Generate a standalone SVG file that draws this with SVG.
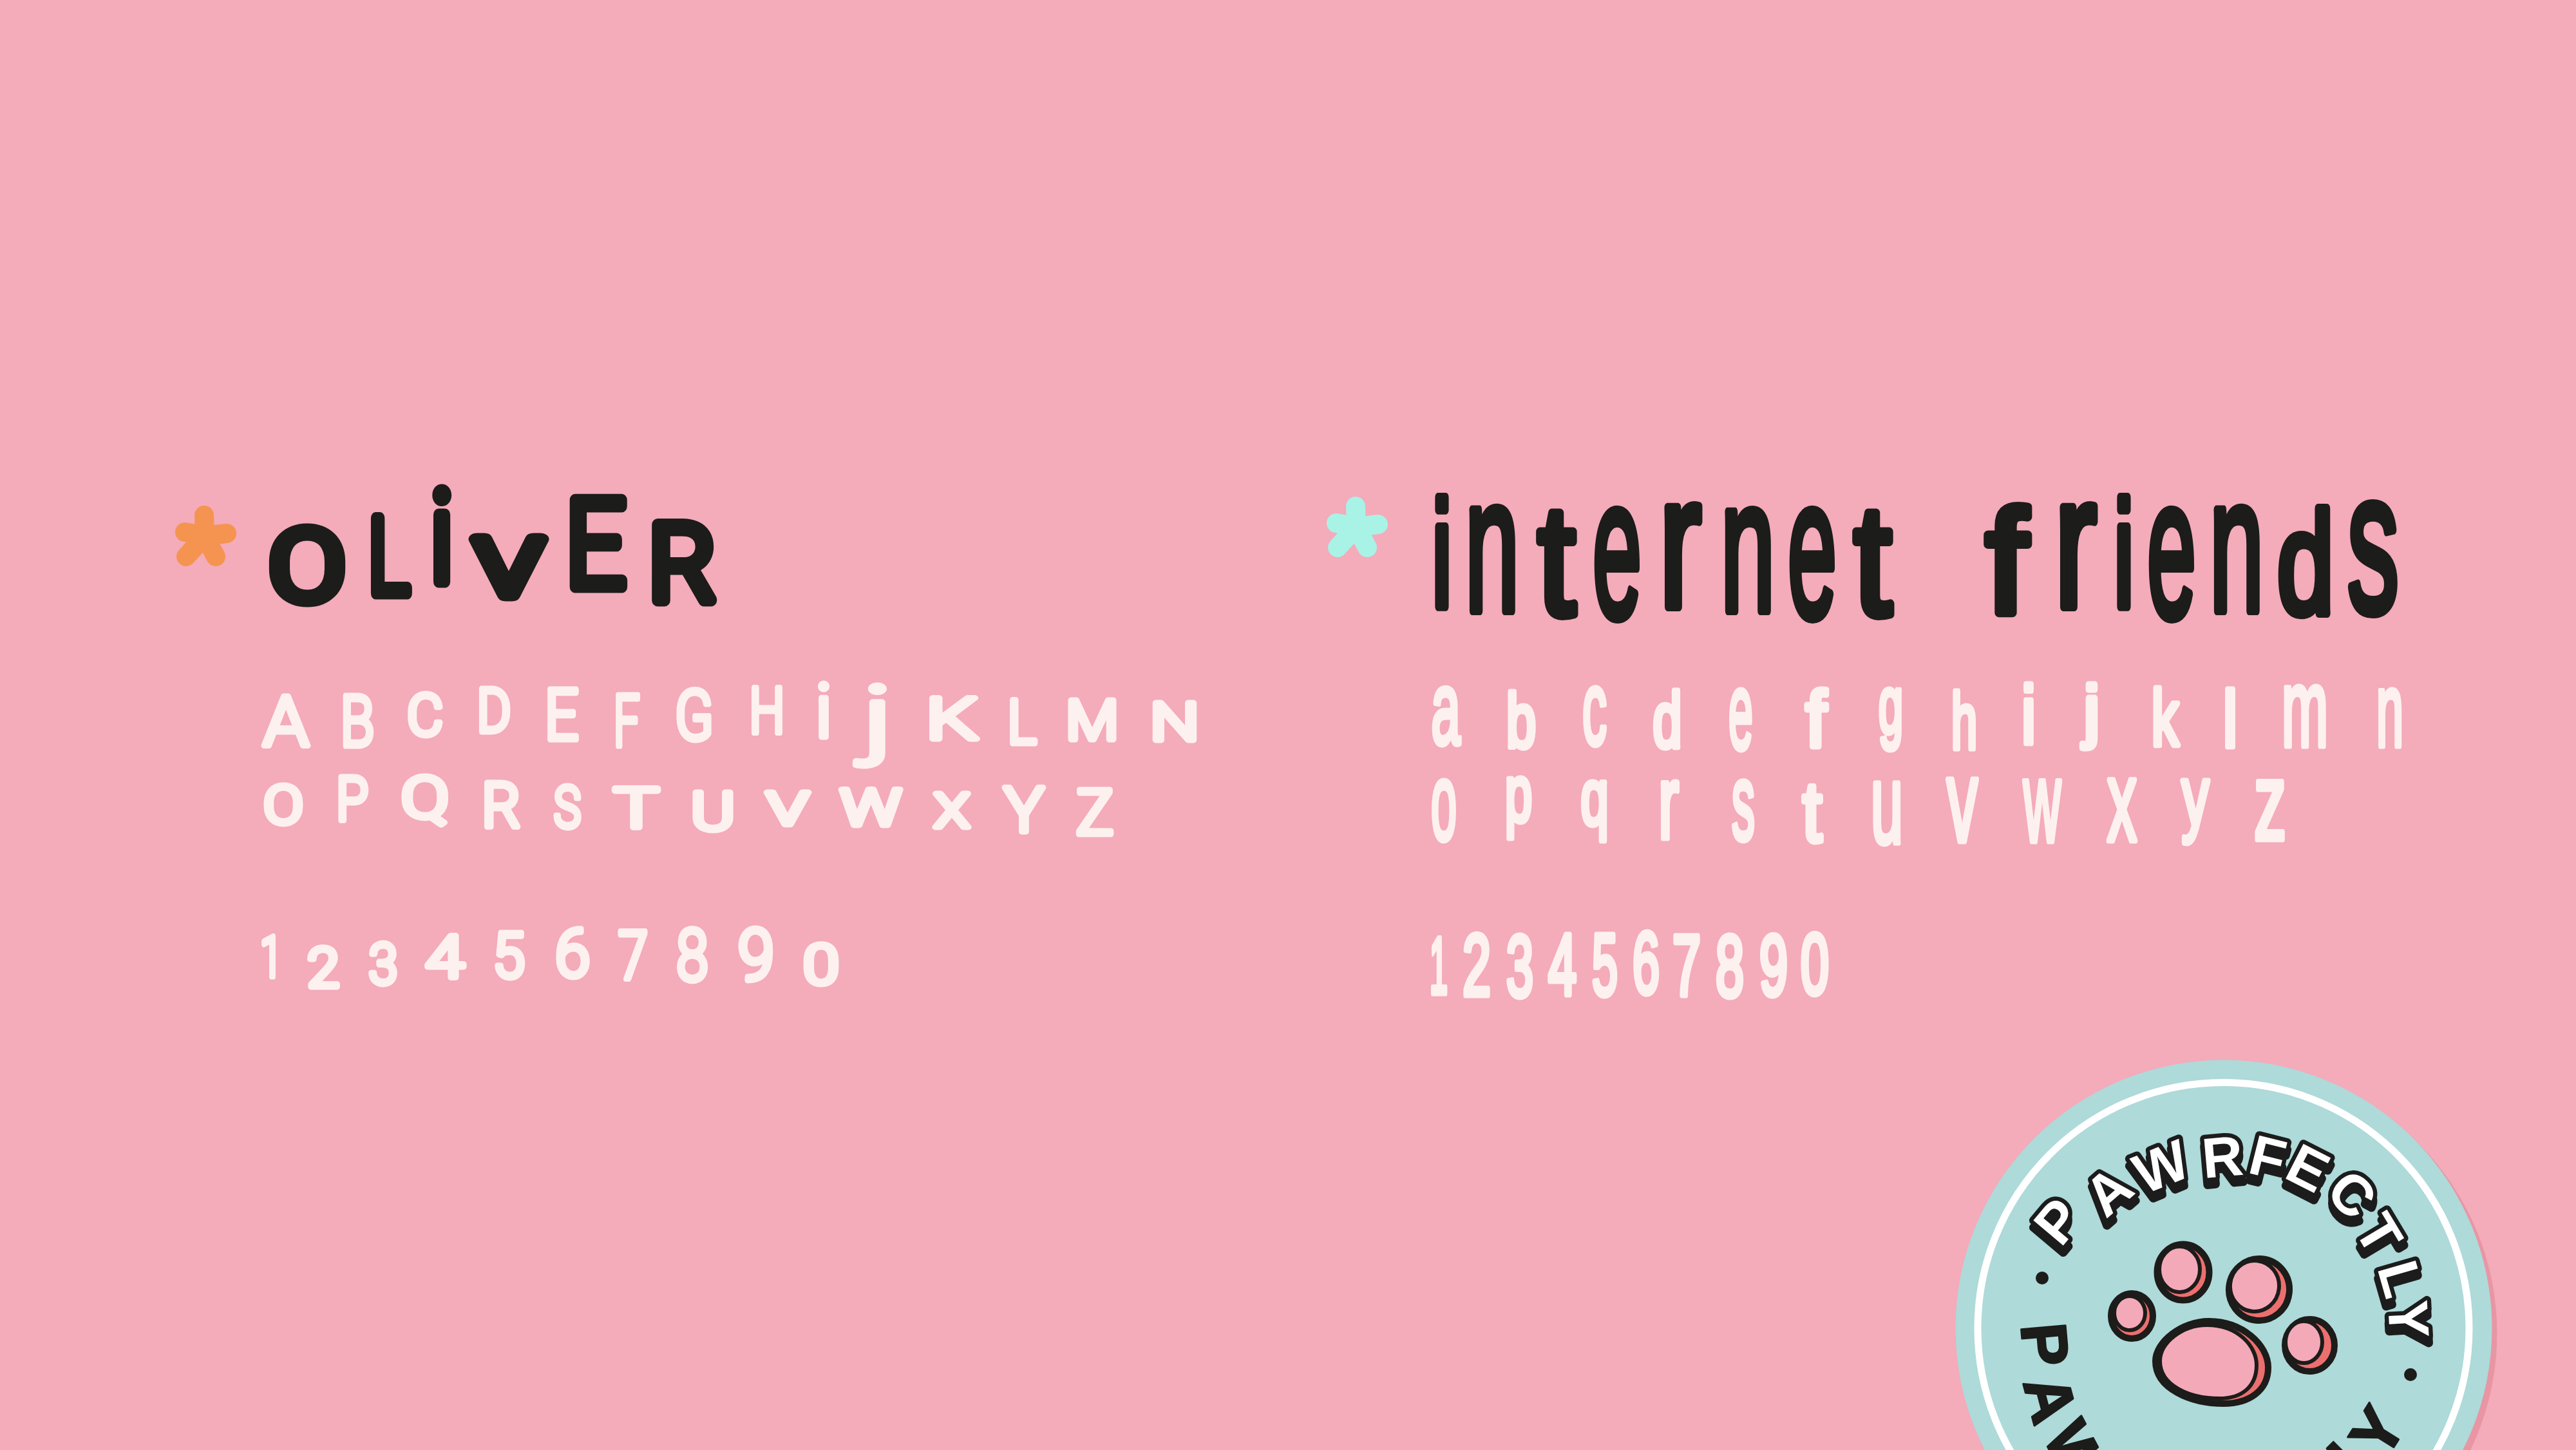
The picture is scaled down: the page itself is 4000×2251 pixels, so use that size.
<svg xmlns="http://www.w3.org/2000/svg" width="4000" height="2251" viewBox="0 0 4000 2251">
<style>
text{font-family:"Liberation Sans",Arial,sans-serif;text-anchor:middle;stroke-linejoin:round;stroke-linecap:round}
tspan{text-anchor:middle}
.la{fill:#fdf1ef;stroke:#fdf1ef;stroke-width:9;font-family:Roboto,"Liberation Sans",sans-serif;font-weight:300}
.lb{fill:#fdf1ef;stroke:#fdf1ef;stroke-width:9;font-family:"Liberation Sans Narrow","Liberation Sans",sans-serif}
.ho{fill:#1c1c1a;stroke:#1c1c1a;stroke-width:19;font-family:Roboto,"Liberation Sans",sans-serif;font-weight:300}
.hi{fill:#1c1c1a;stroke:#1c1c1a;stroke-width:14;font-family:"Liberation Sans Narrow","Liberation Sans",sans-serif}
.star{fill:none;stroke-width:30;stroke-linecap:round;stroke-linejoin:round}
.ring{text-anchor:start;font-size:88px;font-weight:700;font-family:"Liberation Sans Narrow","Liberation Sans",sans-serif;fill:#fff;stroke:#1c1c1a;stroke-width:13;paint-order:stroke;filter:url(#drop)}
.ring2{text-anchor:start;font-size:100px;font-weight:700;fill:#1c1c1a;stroke:#1c1c1a;stroke-width:3}
.out{fill:#ec6f6f;stroke:#1c1c1a;stroke-width:10}
.in{fill:#f4a9b9;stroke:#1c1c1a;stroke-width:6}
</style>
<defs><filter id="drop" x="-20%" y="-20%" width="140%" height="140%"><feDropShadow dx="0" dy="11" stdDeviation="0" flood-color="#1c1c1a"/></filter></defs>
<rect id="background" width="4000" height="2251" fill="#f4abba"/>

<g id="oliver">
<path class="star" stroke="#f59450" d="M318 832L317 800M318 832L287 826M318 832L352 828M318 832L289 864M318 832L335 864"/>
<text class="ho"><tspan x="477" y="932" font-size="152" textLength="118" lengthAdjust="spacingAndGlyphs">O</tspan><tspan x="604" y="921" font-size="164" textLength="64" lengthAdjust="spacingAndGlyphs">L</tspan><tspan x="686" y="903" font-size="197" textLength="38" lengthAdjust="spacingAndGlyphs">i</tspan><tspan x="790" y="924" font-size="122" textLength="104" lengthAdjust="spacingAndGlyphs">V</tspan><tspan x="925" y="911" font-size="190" textLength="94" lengthAdjust="spacingAndGlyphs">E</tspan><tspan x="1059" y="932" font-size="166" textLength="104" lengthAdjust="spacingAndGlyphs">R</tspan></text>
<text class="la"><tspan x="444" y="1157" font-size="108" textLength="71" lengthAdjust="spacingAndGlyphs">A</tspan><tspan x="555" y="1158" font-size="110" textLength="53" lengthAdjust="spacingAndGlyphs">B</tspan><tspan x="660" y="1141" font-size="89" textLength="56" lengthAdjust="spacingAndGlyphs">C</tspan><tspan x="767" y="1136" font-size="94" textLength="53" lengthAdjust="spacingAndGlyphs">D</tspan><tspan x="872" y="1148" font-size="110" textLength="53" lengthAdjust="spacingAndGlyphs">E</tspan><tspan x="973" y="1158" font-size="112" textLength="41" lengthAdjust="spacingAndGlyphs">F</tspan><tspan x="1078" y="1148" font-size="107" textLength="60" lengthAdjust="spacingAndGlyphs">G</tspan><tspan x="1191" y="1138" font-size="99" textLength="55" lengthAdjust="spacingAndGlyphs">H</tspan><tspan x="1279" y="1144" font-size="115">i</tspan><tspan x="1363" y="1160" font-size="134" textLength="45" lengthAdjust="spacingAndGlyphs">j</tspan><tspan x="1478" y="1147" font-size="89" textLength="80" lengthAdjust="spacingAndGlyphs">K</tspan><tspan x="1587" y="1154" font-size="94" textLength="45" lengthAdjust="spacingAndGlyphs">L</tspan><tspan x="1696" y="1148" font-size="85" textLength="82" lengthAdjust="spacingAndGlyphs">M</tspan><tspan x="1824" y="1149" font-size="82" textLength="76" lengthAdjust="spacingAndGlyphs">N</tspan></text>
<text class="la"><tspan x="440" y="1278" font-size="82" textLength="62" lengthAdjust="spacingAndGlyphs">O</tspan><tspan x="547" y="1273" font-size="94" textLength="50" lengthAdjust="spacingAndGlyphs">P</tspan><tspan x="660" y="1269" font-size="89" textLength="75" lengthAdjust="spacingAndGlyphs">Q</tspan><tspan x="778" y="1284" font-size="96" textLength="60" lengthAdjust="spacingAndGlyphs">R</tspan><tspan x="881" y="1284" font-size="89" textLength="42" lengthAdjust="spacingAndGlyphs">S</tspan><tspan x="988" y="1284" font-size="85" textLength="70" lengthAdjust="spacingAndGlyphs">T</tspan><tspan x="1107" y="1288" font-size="82" textLength="68" lengthAdjust="spacingAndGlyphs">U</tspan><tspan x="1223" y="1280" font-size="71" textLength="65" lengthAdjust="spacingAndGlyphs">V</tspan><tspan x="1352" y="1281" font-size="78" textLength="95" lengthAdjust="spacingAndGlyphs">W</tspan><tspan x="1478" y="1284" font-size="72" textLength="55" lengthAdjust="spacingAndGlyphs">X</tspan><tspan x="1590" y="1291" font-size="97" textLength="62" lengthAdjust="spacingAndGlyphs">Y</tspan><tspan x="1700" y="1295" font-size="97" textLength="58" lengthAdjust="spacingAndGlyphs">Z</tspan></text>
<text class="la"><tspan x="421" y="1516" font-size="88" textLength="34" lengthAdjust="spacingAndGlyphs">1</tspan><tspan x="502" y="1532" font-size="86" textLength="50" lengthAdjust="spacingAndGlyphs">2</tspan><tspan x="595" y="1527" font-size="88" textLength="45" lengthAdjust="spacingAndGlyphs">3</tspan><tspan x="691" y="1517" font-size="90" textLength="60" lengthAdjust="spacingAndGlyphs">4</tspan><tspan x="790" y="1517" font-size="97" textLength="50" lengthAdjust="spacingAndGlyphs">5</tspan><tspan x="889" y="1516" font-size="104" textLength="55" lengthAdjust="spacingAndGlyphs">6</tspan><tspan x="983" y="1520" font-size="103" textLength="46" lengthAdjust="spacingAndGlyphs">7</tspan><tspan x="1075" y="1522" font-size="112" textLength="50" lengthAdjust="spacingAndGlyphs">8</tspan><tspan x="1174" y="1521" font-size="112" textLength="57" lengthAdjust="spacingAndGlyphs">9</tspan><tspan x="1275" y="1527" font-size="86" textLength="56" lengthAdjust="spacingAndGlyphs">0</tspan></text>
</g>

<g id="internet-friends">
<path class="star" stroke="#a8f3e6" d="M2106 818L2105 786M2106 818L2075 812M2106 818L2140 814M2106 818L2077 850M2106 818L2123 850"/>
<text class="hi"><tspan x="2239" y="942" font-size="234" textLength="32" lengthAdjust="spacingAndGlyphs">i</tspan><tspan x="2317" y="948" font-size="296" textLength="84" lengthAdjust="spacingAndGlyphs">n</tspan><tspan x="2417" y="954" font-size="243" textLength="58" lengthAdjust="spacingAndGlyphs">t</tspan><tspan x="2511" y="958" font-size="309" textLength="76" lengthAdjust="spacingAndGlyphs">e</tspan><tspan x="2609" y="942" font-size="292" textLength="66" lengthAdjust="spacingAndGlyphs">r</tspan><tspan x="2714" y="948" font-size="290" textLength="84" lengthAdjust="spacingAndGlyphs">n</tspan><tspan x="2814" y="958" font-size="309" textLength="76" lengthAdjust="spacingAndGlyphs">e</tspan><tspan x="2908" y="954" font-size="243" textLength="58" lengthAdjust="spacingAndGlyphs">t</tspan><tspan x="3010" y="950" font-size="200"> </tspan><tspan x="3116" y="952" font-size="228" textLength="64" lengthAdjust="spacingAndGlyphs">f</tspan><tspan x="3223" y="942" font-size="292" textLength="66" lengthAdjust="spacingAndGlyphs">r</tspan><tspan x="3298" y="942" font-size="234" textLength="32" lengthAdjust="spacingAndGlyphs">i</tspan><tspan x="3372" y="958" font-size="309" textLength="76" lengthAdjust="spacingAndGlyphs">e</tspan><tspan x="3473" y="948" font-size="296" textLength="84" lengthAdjust="spacingAndGlyphs">n</tspan><tspan x="3580" y="952" font-size="224" textLength="88" lengthAdjust="spacingAndGlyphs">d</tspan><tspan x="3685" y="950" font-size="313" textLength="80" lengthAdjust="spacingAndGlyphs">s</tspan></text>
<text class="lb"><tspan x="2245" y="1154" font-size="160" textLength="45" lengthAdjust="spacingAndGlyphs">a</tspan><tspan x="2362" y="1160" font-size="119" textLength="46" lengthAdjust="spacingAndGlyphs">b</tspan><tspan x="2476" y="1155" font-size="164" textLength="38" lengthAdjust="spacingAndGlyphs">c</tspan><tspan x="2589" y="1159" font-size="120" textLength="45" lengthAdjust="spacingAndGlyphs">d</tspan><tspan x="2703" y="1162" font-size="168" textLength="38" lengthAdjust="spacingAndGlyphs">e</tspan><tspan x="2820" y="1159" font-size="123" textLength="32" lengthAdjust="spacingAndGlyphs">f</tspan><tspan x="2936" y="1138" font-size="126" textLength="38" lengthAdjust="spacingAndGlyphs">g</tspan><tspan x="3050" y="1162" font-size="123" textLength="40" lengthAdjust="spacingAndGlyphs">h</tspan><tspan x="3150" y="1154" font-size="127" textLength="22" lengthAdjust="spacingAndGlyphs">i</tspan><tspan x="3248" y="1140" font-size="107" textLength="24" lengthAdjust="spacingAndGlyphs">j</tspan><tspan x="3362" y="1157" font-size="122" textLength="42" lengthAdjust="spacingAndGlyphs">k</tspan><tspan x="3463" y="1159" font-size="123" textLength="22" lengthAdjust="spacingAndGlyphs">l</tspan><tspan x="3579" y="1158" font-size="170" textLength="72" lengthAdjust="spacingAndGlyphs">m</tspan><tspan x="3711" y="1158" font-size="162" textLength="42" lengthAdjust="spacingAndGlyphs">n</tspan></text>
<text class="lb"><tspan x="2242" y="1303" font-size="168" textLength="40" lengthAdjust="spacingAndGlyphs">o</tspan><tspan x="2358" y="1275" font-size="124" textLength="42" lengthAdjust="spacingAndGlyphs">p</tspan><tspan x="2476" y="1280" font-size="123" textLength="43" lengthAdjust="spacingAndGlyphs">q</tspan><tspan x="2591" y="1301" font-size="162" textLength="32" lengthAdjust="spacingAndGlyphs">r</tspan><tspan x="2707" y="1303" font-size="168" textLength="36" lengthAdjust="spacingAndGlyphs">s</tspan><tspan x="2814" y="1306" font-size="131" textLength="30" lengthAdjust="spacingAndGlyphs">t</tspan><tspan x="2930" y="1308" font-size="175" textLength="50" lengthAdjust="spacingAndGlyphs">u</tspan><tspan x="3047" y="1306" font-size="181" textLength="48" lengthAdjust="spacingAndGlyphs">v</tspan><tspan x="3171" y="1306" font-size="177" textLength="58" lengthAdjust="spacingAndGlyphs">w</tspan><tspan x="3295" y="1305" font-size="179" textLength="46" lengthAdjust="spacingAndGlyphs">x</tspan><tspan x="3409" y="1282" font-size="132" textLength="42" lengthAdjust="spacingAndGlyphs">y</tspan><tspan x="3525" y="1303" font-size="168" textLength="50" lengthAdjust="spacingAndGlyphs">z</tspan></text>
<text class="lb"><tspan x="2234" y="1542" font-size="125" textLength="28" lengthAdjust="spacingAndGlyphs">1</tspan><tspan x="2293" y="1545" font-size="136" textLength="44" lengthAdjust="spacingAndGlyphs">2</tspan><tspan x="2360" y="1547" font-size="135" textLength="42" lengthAdjust="spacingAndGlyphs">3</tspan><tspan x="2426" y="1544" font-size="136" textLength="44" lengthAdjust="spacingAndGlyphs">4</tspan><tspan x="2492" y="1545" font-size="136" textLength="40" lengthAdjust="spacingAndGlyphs">5</tspan><tspan x="2556" y="1542" font-size="135" textLength="42" lengthAdjust="spacingAndGlyphs">6</tspan><tspan x="2619" y="1545" font-size="133" textLength="44" lengthAdjust="spacingAndGlyphs">7</tspan><tspan x="2686" y="1547" font-size="136" textLength="44" lengthAdjust="spacingAndGlyphs">8</tspan><tspan x="2754" y="1545" font-size="133" textLength="44" lengthAdjust="spacingAndGlyphs">9</tspan><tspan x="2818" y="1543" font-size="133" textLength="44" lengthAdjust="spacingAndGlyphs">0</tspan></text>
</g>

<g id="badge">
<circle cx="3461" cy="2070" r="416.5" fill="#e896a3"/>
<circle cx="3453" cy="2062" r="416.5" fill="#aedad9"/>
<circle cx="3452.5" cy="2062" r="381.5" fill="none" stroke="#fff" stroke-width="11"/>
<text class="ring" x="3200 3270 3329 3422 3488 3544 3608 3654 3691 3708" y="1938 1893 1855 1829 1820 1827 1854 1908 1968 2020" rotate="-50 -41 -22 -5 14 27 44 59 74 87">PAWRFECTLY</text>
<text class="ring2" x="3138 3141 3171" y="2057 2146 2230" rotate="85 75 62">PAW</text>
<text class="ring2" x="3657 3703" y="2302 2269" rotate="-45 -58">LY</text>
<circle cx="3171" cy="1984" r="10" fill="#1c1c1a"/>
<circle cx="3743" cy="2134" r="10" fill="#1c1c1a"/>
<g id="paw">
<ellipse class="out" cx="3390" cy="1975" rx="40.5" ry="43.5"/><ellipse class="in" cx="3384.5" cy="1970.5" rx="31.5" ry="35.5"/>
<ellipse class="out" cx="3508" cy="2002" rx="47" ry="48" transform="rotate(6 3508 2002)"/><ellipse class="in" cx="3501" cy="1996.5" rx="38" ry="39.5" transform="rotate(6 3501 1996)"/>
<ellipse class="out" cx="3310.5" cy="2043" rx="32.5" ry="35"/><ellipse class="in" cx="3307" cy="2038.5" rx="24" ry="26.5"/>
<ellipse class="out" cx="3586.5" cy="2088.5" rx="38.5" ry="40.5"/><ellipse class="in" cx="3577.5" cy="2083.5" rx="28.5" ry="32.5"/>
<path class="out" d="M3430 2051C3482 2051 3522 2088 3522 2123C3522 2159 3492 2179 3453 2179C3402 2179 3347 2156 3347 2113C3347 2083 3388 2051 3430 2051Z"/>
<path class="in" d="M3427 2057C3475 2057 3504 2090 3504 2119C3504 2152 3482 2171 3446 2171C3398 2171 3354 2150 3354 2113C3354 2085 3388 2057 3427 2057Z"/>
</g>
</g>
</svg>
